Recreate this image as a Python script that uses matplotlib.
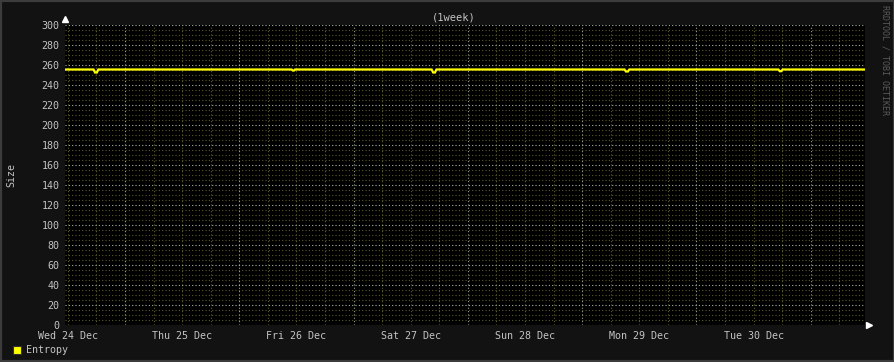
import matplotlib
matplotlib.use('Agg')
import matplotlib.pyplot as plt
from matplotlib.patches import Rectangle

# hours counted from Wed 24 Dec 00:00
hours = [11.4,
         17.4, 17.7, 18.1, 18.4,
         59.0, 59.2, 59.5, 59.7,
         88.4, 88.7, 89.1, 89.4,
         128.9, 129.2, 129.6, 129.9,
         161.2, 161.5, 161.8, 162.1,
         179.2]
entropy = [255.5,
           255.5, 252.5, 252.5, 255.5,
           255.5, 254.5, 254.5, 255.5,
           255.5, 252.5, 252.5, 255.5,
           255.5, 253.5, 253.5, 255.5,
           255.5, 253.8, 253.8, 255.5,
           255.5]

day_pos = [12, 36, 60, 84, 108, 132, 156]
day_labels = ['Wed 24 Dec', 'Thu 25 Dec', 'Fri 26 Dec', 'Sat 27 Dec',
              'Sun 28 Dec', 'Mon 29 Dec', 'Tue 30 Dec']
midnights = [24, 48, 72, 96, 120, 144, 168]
six_hours = [h for h in range(12, 180, 6) if h % 24 != 0]
y_major = list(range(0, 301, 20))
y_minor = [v for v in range(0, 301, 5) if v % 20 != 0]

x_start, x_end = 11.4, 179.4

canvas = '#121212'
text_col = '#c4c4c4'
mgrid = '#b8c8b8'
grid = '#5c5c2a'
font = 'DejaVu Sans Mono'

W, H = 895, 362
fig = plt.figure(figsize=(W / 100, H / 100), dpi=100, facecolor=canvas)
ax = fig.add_axes([65 / W, (H - 325) / H, 800 / W, 300 / H])
ax.set_facecolor('#000000')
ax.set_xlim(x_start, x_end)
ax.set_ylim(0, 300)

dot = (0, (1, 2))
for h in six_hours:
    ax.axvline(h, color=grid, lw=0.8, ls=dot, zorder=1)
for v in y_minor:
    ax.axhline(v, color=grid, lw=0.8, ls=dot, zorder=1)
for h in midnights:
    ax.axvline(h, color=mgrid, lw=0.8, ls=dot, alpha=0.8, zorder=2)
for v in y_major:
    ax.axhline(v, color=mgrid, lw=0.8, ls=dot, alpha=0.9, zorder=2)

ax.plot(hours, entropy, color='#ffff00', lw=1.6, zorder=3, solid_joinstyle='miter')

for s in ax.spines.values():
    s.set_visible(False)
ax.set_xticks(day_pos)
ax.set_xticklabels(day_labels)
ax.set_yticks(y_major)
ax.tick_params(length=0, pad=4, labelcolor=text_col, labelsize=7.2)
for lab in ax.get_xticklabels() + ax.get_yticklabels():
    lab.set_family(font)

# axis arrows
ax.plot([0], [1.0 + 6 / 300], marker='^', color='white', ms=4.5,
        transform=ax.transAxes, clip_on=False)
ax.plot([1.0 + 4 / 800], [0], marker='>', color='white', ms=4.5,
        transform=ax.transAxes, clip_on=False)

fig.text(454 / W, 1 - 17 / H, '(1week)', color=text_col, fontsize=7.5,
         family=font, ha='center', va='center')
fig.text(11 / W, 1 - 175 / H, 'Size', color=text_col, fontsize=7.2,
         family=font, ha='center', va='center', rotation=90)
fig.text(885 / W, 1 - 60 / H, 'RRDTOOL / TOBI OETIKER', color='#5a5a5a',
         fontsize=6.0, family=font, ha='center', va='center', rotation=270)

# legend
fig.patches.append(Rectangle((13 / W, 1 - 354 / H), 8 / W, 8 / H,
                             transform=fig.transFigure, facecolor='#ffff00',
                             edgecolor='#333333', lw=0.8))
fig.text(26 / W, 1 - 350 / H, 'Entropy', color=text_col, fontsize=7.2,
         family=font, ha='left', va='center')

# outer frame
fig.patches.append(Rectangle((0, 0), 1, 1, transform=fig.transFigure,
                             facecolor='none', edgecolor='#3c3c3c', lw=3))

fig.savefig('out.png', dpi=100, facecolor=canvas)
